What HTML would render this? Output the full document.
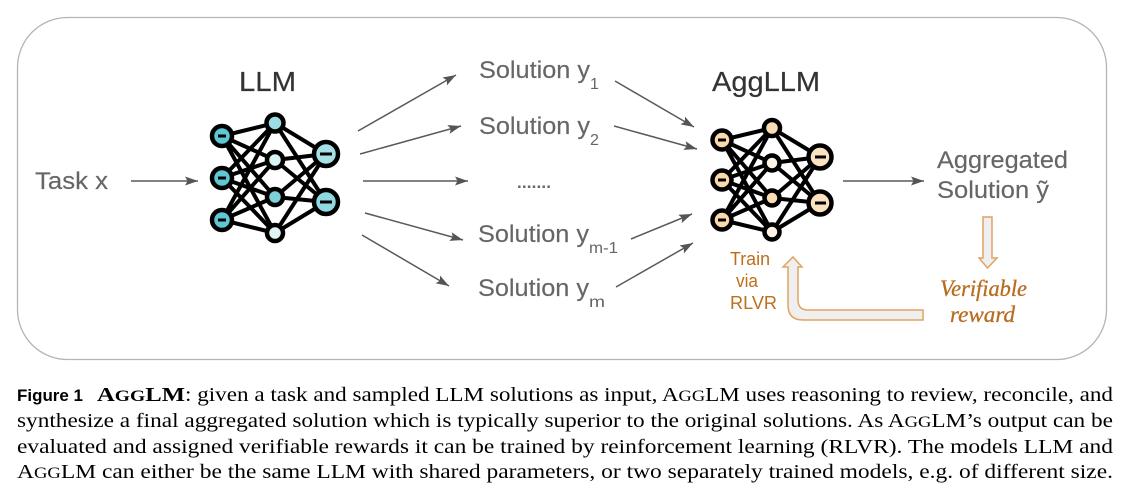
<!DOCTYPE html>
<html><head><meta charset="utf-8"><style>
html,body{margin:0;padding:0;background:#fff;width:1135px;height:498px;overflow:hidden}
svg{display:block}
.l{font-family:"Liberation Sans",sans-serif;fill:#666;font-size:24px;stroke:#666;stroke-width:.15}
.s{font-family:"Liberation Sans",sans-serif;fill:#666;font-size:16px}
.h{font-family:"Liberation Sans",sans-serif;fill:#333;font-size:28px;stroke:#333;stroke-width:.2}
.o{font-family:"Liberation Sans",sans-serif;fill:#bd6f1c;font-size:18px}
.v{font-family:"Liberation Serif",serif;font-style:italic;fill:#b86c1e;font-size:23px;stroke:#b86c1e;stroke-width:.3}
.c{font-family:"Liberation Serif",serif;fill:#000;font-size:19.500px}
.n{stroke:#000;stroke-width:4;fill:none}
</style></head><body>
<svg width="1135" height="498" viewBox="0 0 1135 498" xmlns="http://www.w3.org/2000/svg">
<defs>
<marker id="a" markerUnits="userSpaceOnUse" markerWidth="14" markerHeight="10" refX="13" refY="4.500" orient="auto"><path d="M0 0L13 4.500L0 9L2.500 4.500Z" fill="#555"/></marker>
</defs>
<rect x="17.500" y="17.500" width="1089" height="342" rx="50" ry="50" fill="#fff" stroke="#b5b5b5" stroke-width="1.300"/>

<g fill="none" stroke="#595959" stroke-width="1.500" marker-end="url(#a)">
<path d="M131 181H198"/>
<path d="M358 131L456 75"/>
<path d="M360 154L461 126"/>
<path d="M363 181H468"/>
<path d="M365 213L463 240"/>
<path d="M362 235L449 286"/>
<path d="M615 81L694 127"/>
<path d="M614 126L697 149"/>
<path d="M631 239L692 214"/>
<path d="M616 287L693 243"/>
<path d="M843 181H924"/>
</g>

<!-- LLM network -->
<g class="n">
<path d="M222 136L275 123M222 136L275 160M222 136L275 197M222 136L275 233M222 178L275 123M222 178L275 160M222 178L275 197M222 178L275 233M222 220L275 123M222 220L275 160M222 220L275 197M222 220L275 233M275 123L326 154M275 123L326 202M275 160L326 154M275 160L326 202M275 197L326 154M275 197L326 202M275 233L326 154M275 233L326 202"/>
</g>
<g stroke="#000" stroke-width="4.500">
<circle cx="222" cy="136" r="10" fill="#5fc6d3"/><circle cx="222" cy="178" r="10" fill="#5fc6d3"/><circle cx="222" cy="220" r="10" fill="#5fc6d3"/>
<circle cx="275" cy="123" r="8.500" fill="#9cdde4"/><circle cx="275" cy="160" r="8" fill="#d9f2f4"/><circle cx="275" cy="197" r="8" fill="#7dd0da"/><circle cx="275" cy="233" r="8" fill="#dff4f6"/>
<circle cx="326" cy="154" r="12" fill="#a6e0e6"/><circle cx="326" cy="202" r="12" fill="#90d9e0"/>
</g>
<path d="M218 136h8M218 178h8M218 220h8M320 154h12M320 202h12" stroke="#000" stroke-width="3"/>

<!-- AggLLM network -->
<g class="n">
<path d="M722 140L772 128M722 140L772 163M722 140L772 198M722 140L772 232M722 180L772 128M722 180L772 163M722 180L772 198M722 180L772 232M722 220L772 128M722 220L772 163M722 220L772 198M722 220L772 232M772 128L820 157M772 128L820 203M772 163L820 157M772 163L820 203M772 198L820 157M772 198L820 203M772 232L820 157M772 232L820 203"/>
</g>
<g stroke="#000" stroke-width="4.500">
<circle cx="722" cy="140" r="9.500" fill="#fad9ac"/><circle cx="722" cy="180" r="9.500" fill="#fad9ac"/><circle cx="722" cy="220" r="9.500" fill="#fad9ac"/>
<circle cx="772" cy="128" r="8" fill="#fbdcb4"/><circle cx="772" cy="163" r="7.500" fill="#fdf3e4"/><circle cx="772" cy="198" r="7.500" fill="#fbdcb4"/><circle cx="772" cy="232" r="7.500" fill="#fdf3e4"/>
<circle cx="820" cy="157" r="11.500" fill="#fbe2c0"/><circle cx="820" cy="203" r="11.500" fill="#fbe2c0"/>
</g>
<path d="M718 140h8M718 180h8M718 220h8M815 157h11M815 203h11" stroke="#000" stroke-width="3"/>

<!-- orange arrows -->
<path d="M983 217H992V258H997L987.500 268L979 258H983Z" fill="#efefef" stroke="#e0a463" stroke-width="1.500"/>
<path d="M923 310V320H803Q788 320 788 305V267H783L793 257L802 267H798V300Q798 310 808 310Z" fill="#efefef" stroke="#e0a463" stroke-width="1.500"/>

<!-- labels -->
<text class="l" x="35" y="189" textLength="73" lengthAdjust="spacingAndGlyphs">Task x</text>
<text class="h" x="239" y="91" textLength="57" lengthAdjust="spacingAndGlyphs">LLM</text>
<text class="h" x="712" y="91" textLength="108" lengthAdjust="spacingAndGlyphs">AggLLM</text>

<text class="l" x="479" y="78" textLength="111" lengthAdjust="spacingAndGlyphs">Solution y</text>
<text class="s" x="590" y="89">1</text>
<text class="l" x="479" y="134" textLength="111" lengthAdjust="spacingAndGlyphs">Solution y</text>
<text class="s" x="590" y="145">2</text>
<text x="517" y="188" font-family="'Liberation Sans',sans-serif" font-weight="700" font-size="17" fill="#666" textLength="34" lengthAdjust="spacing">.......</text>
<text class="l" x="478" y="242" textLength="111" lengthAdjust="spacingAndGlyphs">Solution y</text>
<text class="s" x="589" y="253" textLength="29" lengthAdjust="spacingAndGlyphs">m-1</text>
<text class="l" x="478" y="296" textLength="111" lengthAdjust="spacingAndGlyphs">Solution y</text>
<text class="s" x="589" y="307" textLength="16" lengthAdjust="spacingAndGlyphs">m</text>

<text class="l" x="937" y="168" textLength="131" lengthAdjust="spacingAndGlyphs">Aggregated</text>
<text class="l" x="937" y="198" textLength="112" lengthAdjust="spacingAndGlyphs">Solution ỹ</text>

<text class="o" x="730" y="265" textLength="40" lengthAdjust="spacingAndGlyphs">Train</text>
<text class="o" x="736" y="287" textLength="22" lengthAdjust="spacingAndGlyphs">via</text>
<text class="o" x="730" y="309" textLength="47" lengthAdjust="spacingAndGlyphs">RLVR</text>

<text class="v" x="940" y="296" textLength="87" lengthAdjust="spacingAndGlyphs">Verifiable</text>
<text class="v" x="950" y="322" textLength="65" lengthAdjust="spacingAndGlyphs">reward</text>

<!-- caption -->
<text x="17" y="401" font-family="'Liberation Sans',sans-serif" font-weight="700" font-size="17" fill="#000" textLength="66" lengthAdjust="spacingAndGlyphs">Figure 1</text>
<text class="c" x="97" y="401" textLength="88" lengthAdjust="spacingAndGlyphs" font-weight="700">A<tspan font-size="15.500">GG</tspan>LM</text>
<text class="c" x="185" y="401" textLength="928" lengthAdjust="spacingAndGlyphs">: given a task and sampled LLM solutions as input, A<tspan font-size="15.500">GG</tspan>LM uses reasoning to review, reconcile, and</text>
<text class="c" x="17" y="427" textLength="1096" lengthAdjust="spacingAndGlyphs">synthesize a final aggregated solution which is typically superior to the original solutions. As A<tspan font-size="15.500">GG</tspan>LM’s output can be</text>
<text class="c" x="17" y="453" textLength="1096" lengthAdjust="spacingAndGlyphs">evaluated and assigned verifiable rewards it can be trained by reinforcement learning (RLVR). The models LLM and</text>
<text class="c" x="17" y="478" textLength="1096" lengthAdjust="spacingAndGlyphs">A<tspan font-size="15.500">GG</tspan>LM can either be the same LLM with shared parameters, or two separately trained models, e.g. of different size.</text>
</svg>
</body></html>
